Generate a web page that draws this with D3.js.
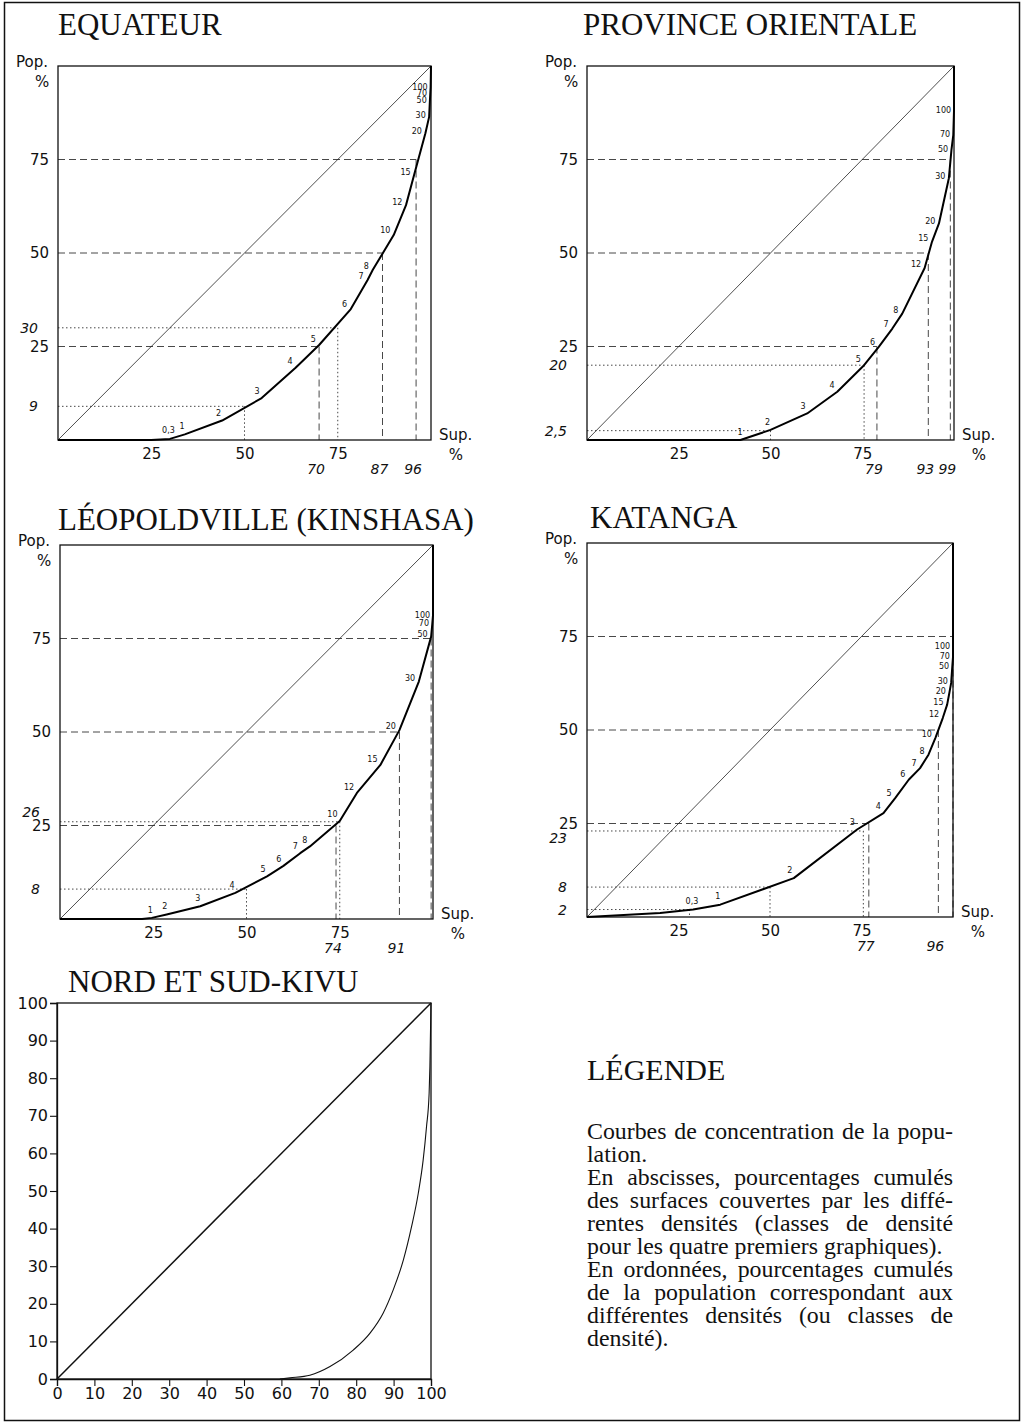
<!DOCTYPE html>
<html>
<head>
<meta charset="utf-8">
<script src="https://cdn.jsdelivr.net/npm/d3@7"></script>
<style>
  body { margin: 0; background: #fff; }
  svg { display: block; }
  .title { font-family: "Liberation Serif", "Times New Roman", serif; font-size: 31px; fill: #111; }
  .ltitle { font-family: "Liberation Serif", "Times New Roman", serif; font-size: 30px; fill: #111; }
  .lab { font-family: "DejaVu Sans", sans-serif; font-size: 15px; fill: #111; }
  .ital { font-family: "DejaVu Sans", sans-serif; font-size: 14px; font-style: italic; fill: #111; }
  .dens { font-family: "DejaVu Sans", sans-serif; font-size: 8px; fill: #111; }
  .legend { font-family: "Liberation Serif", "Times New Roman", serif; font-size: 22.5px; fill: #111; }
</style>
</head>
<body>
<div id="chart"></div>
<script>
// ---- data ----
const titles = ["EQUATEUR", "PROVINCE ORIENTALE", "LÉOPOLDVILLE (KINSHASA)", "KATANGA", "NORD ET SUD-KIVU"]
const gridTicks = [25, 50, 75]
const kivuTicks = [0, 10, 20, 30, 40, 50, 60, 70, 80, 90, 100]

// Equateur: cumulated surface %, cumulated population %, density class at vertex
const equateurSup = [0, 25, 30, 34, 44, 54.6, 63.7, 70, 78.5, 83, 84.4, 90, 93.3, 95.5, 98.5, 99.5, 99.7, 99.8, 99.9, 100]
const equateurPop = [0, 0, 0.3, 1.5, 5.2, 11.2, 19.3, 25.4, 35, 42.8, 45.5, 54.8, 62.8, 71, 82, 86.4, 90.6, 92.5, 94.3, 100]
const equateurDens = ["", "", "0,3", "1", "2", "3", "4", "5", "6", "7", "8", "10", "12", "15", "20", "30", "50", "70", "100", ""]
const equateurRefSup = [70, 75, 87, 96, 50]
const equateurRefPop = [25, 30, 50, 75, 9]
const equateurRefLabel = ["70", "", "87", "96", ""]

// Province Orientale
const orientaleSup = [0, 41.8, 50, 60, 68.2, 75.5, 79.5, 83.2, 85.9, 92, 94, 95.9, 98.6, 99.3, 99.8, 100, 100]
const orientalePop = [0, 0, 2.7, 7.1, 12.9, 20, 24.9, 29.8, 33.8, 46, 53, 57.9, 70, 77.5, 81.5, 88, 100]
const orientaleDens = ["", "1", "2", "3", "4", "5", "6", "7", "8", "12", "15", "20", "30", "50", "70", "100", ""]
const orientaleRefSup = [79, 75.5, 93, 99, 50]
const orientaleRefPop = [25, 20, 50, 75, 2.5]
const orientaleRefLabel = ["79", "", "93", "99", ""]

// Léopoldville (Kinshasa)
const leoSup = [0, 22, 24.6, 28.6, 37.6, 47, 55.5, 59.9, 64.4, 67, 75, 79.6, 85.9, 91, 96.2, 99.5, 99.8, 100, 100]
const leoPop = [0, 0, 0.3, 1.2, 3.4, 7, 11.4, 14.2, 17.6, 19.4, 26.2, 33.7, 41.2, 50.5, 63.5, 75.5, 78.8, 81.2, 100]
const leoDens = ["", "", "1", "2", "3", "4", "5", "6", "7", "8", "10", "12", "15", "20", "30", "50", "70", "100", ""]
const leoRefSup = [74, 75, 91, 99.5, 50]
const leoRefPop = [25, 26, 50, 75, 8]
const leoRefLabel = ["74", "", "91", "", ""]

// Katanga
const katangaSup = [0, 20, 29, 36.4, 56.5, 73.8, 81, 84.2, 87.9, 91, 93.3, 95.2, 97.2, 98.4, 99, 99.5, 99.8, 100, 100, 100]
const katangaPop = [0, 1.1, 2, 3.3, 10.4, 23.4, 27.8, 31.8, 36.7, 39.8, 43.4, 47.9, 53.2, 56.8, 59.9, 62.6, 66.8, 69.5, 72.2, 100]
const katangaDens = ["", "", "0,3", "1", "2", "3", "4", "5", "6", "7", "8", "10", "12", "15", "20", "30", "50", "70", "100", ""]
const katangaRefSup = [77, 75.5, 96, 100, 50, 28]
const katangaRefPop = [25, 23, 50, 75, 8, 2]
const katangaRefLabel = ["77", "", "96", "", "", ""]

// Nord et Sud-Kivu (smooth curve)
const kivuSup = [59.6, 62.3, 67.6, 73, 79.2, 83.7, 87.2, 89.9, 92.6, 94.8, 96.6, 97.9, 98.8, 99.5, 99.7, 100]
const kivuPop = [0, 0.3, 1, 3.3, 7.7, 12.2, 17.5, 23.7, 31.6, 40.5, 49.4, 58.2, 67.1, 76, 83, 100]

const legendTitle = "LÉGENDE"
const legendParagraphs = [
  ["Courbes de concentration de la popu-", "lation."],
  ["En abscisses, pourcentages cumulés", "des surfaces couvertes par les diffé-", "rentes densités (classes de densité", "pour les quatre premiers graphiques)."],
  ["En ordonnées, pourcentages cumulés", "de la population correspondant aux", "différentes densités (ou classes de", "densité)."]
]

// ---- drawing ----
const width = 1025, height = 1425
const svg = d3.select("#chart").append("svg").attr("width", width).attr("height", height)

// page frame
svg.append("rect").attr("x", 4.5).attr("y", 2.5).attr("width", 1015).attr("height", 1418)
   .attr("fill", "none").attr("stroke", "#111").attr("stroke-width", 1.5)

const fmt = v => String(v).replace(".", ",")

function drawPanel(p) {
  svg.append("text").attr("class", "title").attr("x", p.titleX).attr("y", p.titleY).text(p.title)

  const g = svg.append("g").attr("transform", `translate(${p.left},${p.top})`)
  const x = d3.scaleLinear().domain([0, 100]).range([0, p.w])
  const y = d3.scaleLinear().domain([0, 100]).range([p.h, 0])

  // reference lines (dashed on the 25/50/75 levels, dotted otherwise)
  p.refSup.forEach((s, i) => {
    const v = p.refPop[i]
    const onGrid = gridTicks.includes(v)
    const dash = onGrid ? "7,4" : "1.5,2.5"
    g.append("line").attr("x1", 0).attr("x2", x(s)).attr("y1", y(v)).attr("y2", y(v))
     .attr("stroke", "#333").attr("stroke-width", 0.9).attr("stroke-dasharray", dash)
    g.append("line").attr("x1", x(s)).attr("x2", x(s)).attr("y1", y(v)).attr("y2", y(0))
     .attr("stroke", "#333").attr("stroke-width", 0.9).attr("stroke-dasharray", dash)
  })

  // equal distribution diagonal
  g.append("line").attr("x1", x(0)).attr("y1", y(0)).attr("x2", x(100)).attr("y2", y(100))
   .attr("stroke", "#222").attr("stroke-width", 0.8)

  g.append("rect").attr("width", p.w).attr("height", p.h)
   .attr("fill", "none").attr("stroke", "#111").attr("stroke-width", 1.3)

  // concentration curve
  const pts = p.sup.map((s, i) => [s, p.pop[i]])
  const line = d3.line().x(d => x(d[0])).y(d => y(d[1]))
  g.append("path").datum(pts).attr("d", line)
   .attr("fill", "none").attr("stroke", "#000").attr("stroke-width", 2).attr("stroke-linejoin", "round")

  // density class labels, pushed off the curve along its normal
  pts.forEach((d, i) => {
    const t = p.dens[i]
    if (!t) return
    const a = pts[Math.max(i - 1, 0)], b = pts[Math.min(i + 1, pts.length - 1)]
    const tx = x(b[0]) - x(a[0]), ty = y(b[1]) - y(a[1])
    const len = Math.hypot(tx, ty) || 1
    const nx = ty / len, ny = -tx / len
    const off = 3 + Math.abs(nx) * t.length * 2.5 + Math.abs(ny) * 4.5
    g.append("text").attr("class", "dens")
     .attr("x", x(d[0]) + nx * off).attr("y", y(d[1]) + ny * off)
     .attr("text-anchor", "middle").attr("dominant-baseline", "central").text(t)
  })

  // axes
  const yAx = g.append("g").call(d3.axisLeft(y).tickValues(gridTicks).tickSize(0).tickPadding(9))
  yAx.select(".domain").remove()
  yAx.selectAll("text").attr("class", "lab").attr("font-size", null).attr("font-family", null)
  const xAx = g.append("g").attr("transform", `translate(0,${p.h})`)
    .call(d3.axisBottom(x).tickValues(gridTicks).tickSize(0).tickPadding(8))
  xAx.select(".domain").remove()
  xAx.selectAll("text").attr("class", "lab").attr("font-size", null).attr("font-family", null)

  // italic values
  p.refSup.forEach((s, i) => {
    const v = p.refPop[i]
    if (!gridTicks.includes(v)) {
      let ly = y(v)
      gridTicks.forEach(t => {
        const d = ly - y(t)
        if (Math.abs(d) < 14) ly = y(t) + (v > t ? -14 : 14)
      })
      g.append("text").attr("class", "ital").attr("x", -20).attr("y", ly)
       .attr("text-anchor", "end").attr("dominant-baseline", "central").text(fmt(v))
    }
    if (p.refLabel[i]) {
      g.append("text").attr("class", "ital").attr("x", x(s) - 3).attr("y", p.h + 34)
       .attr("text-anchor", "middle").text(p.refLabel[i])
    }
  })

  g.append("text").attr("class", "lab").attr("x", -10).attr("y", 1).attr("text-anchor", "end").text("Pop.")
  g.append("text").attr("class", "lab").attr("x", -16).attr("y", 21).attr("text-anchor", "middle").text("%")
  g.append("text").attr("class", "lab").attr("x", p.w + 8).attr("y", p.h).text("Sup.")
  g.append("text").attr("class", "lab").attr("x", p.w + 25).attr("y", p.h + 20).attr("text-anchor", "middle").text("%")
}

drawPanel({ title: titles[0], titleX: 58, titleY: 35, left: 58, top: 66, w: 373, h: 374,
  sup: equateurSup, pop: equateurPop, dens: equateurDens,
  refSup: equateurRefSup, refPop: equateurRefPop, refLabel: equateurRefLabel })
drawPanel({ title: titles[1], titleX: 583, titleY: 35, left: 587, top: 66, w: 367, h: 374,
  sup: orientaleSup, pop: orientalePop, dens: orientaleDens,
  refSup: orientaleRefSup, refPop: orientaleRefPop, refLabel: orientaleRefLabel })
drawPanel({ title: titles[2], titleX: 58, titleY: 530, left: 60, top: 545, w: 373, h: 374,
  sup: leoSup, pop: leoPop, dens: leoDens,
  refSup: leoRefSup, refPop: leoRefPop, refLabel: leoRefLabel })
drawPanel({ title: titles[3], titleX: 590, titleY: 528, left: 587, top: 543, w: 366, h: 374,
  sup: katangaSup, pop: katangaPop, dens: katangaDens,
  refSup: katangaRefSup, refPop: katangaRefPop, refLabel: katangaRefLabel })

// Nord et Sud-Kivu: ticked axes, smooth curve
{
  const left = 57, top = 1003, w = 374, h = 376
  svg.append("text").attr("class", "title").attr("x", 68).attr("y", 992).text(titles[4])
  const g = svg.append("g").attr("transform", `translate(${left},${top})`)
  const x = d3.scaleLinear().domain([0, 100]).range([0, w])
  const y = d3.scaleLinear().domain([0, 100]).range([h, 0])
  g.append("rect").attr("width", w).attr("height", h).attr("fill", "none").attr("stroke", "#111").attr("stroke-width", 1.3)
  g.append("line").attr("x1", x(0)).attr("y1", y(0)).attr("x2", x(100)).attr("y2", y(100))
   .attr("stroke", "#111").attr("stroke-width", 1.5)
  const pts = kivuSup.map((s, i) => [s, kivuPop[i]])
  g.append("path").datum(pts)
   .attr("d", d3.line().x(d => x(d[0])).y(d => y(d[1])).curve(d3.curveMonotoneX))
   .attr("fill", "none").attr("stroke", "#111").attr("stroke-width", 1.1)
  const yAx = g.append("g").call(d3.axisLeft(y).tickValues(kivuTicks).tickSize(7).tickPadding(2))
  const xAx = g.append("g").attr("transform", `translate(0,${h})`)
    .call(d3.axisBottom(x).tickValues(kivuTicks).tickSize(7).tickPadding(2))
  ;[yAx, xAx].forEach(a => {
    a.select(".domain").attr("stroke", "#111").attr("stroke-width", 1.3)
    a.selectAll("line").attr("stroke", "#111").attr("stroke-width", 1.1)
    a.selectAll("text").attr("class", "lab").attr("font-size", null).attr("font-family", null).style("font-size", "16px")
  })
}

// legend block (text slightly widened like the printed face)
{
  const lx = 587, lw = 366, sx = 1.06
  svg.append("text").attr("class", "ltitle").attr("x", lx).attr("y", 1080).text(legendTitle)
  const lg = svg.append("g").attr("transform", `translate(${lx},0) scale(${sx},1)`)
  let by = 1139
  legendParagraphs.forEach(par => {
    par.forEach((ln, j) => {
      const t = lg.append("text").attr("class", "legend").attr("x", 0).attr("y", by).text(ln)
      if (j < par.length - 1) {
        const nat = t.node().getComputedTextLength()
        const spaces = ln.split(" ").length - 1
        if (spaces > 0) t.attr("word-spacing", (lw / sx - nat) / spaces)
      }
      by += 23
    })
  })
}
</script>
</body>
</html>
